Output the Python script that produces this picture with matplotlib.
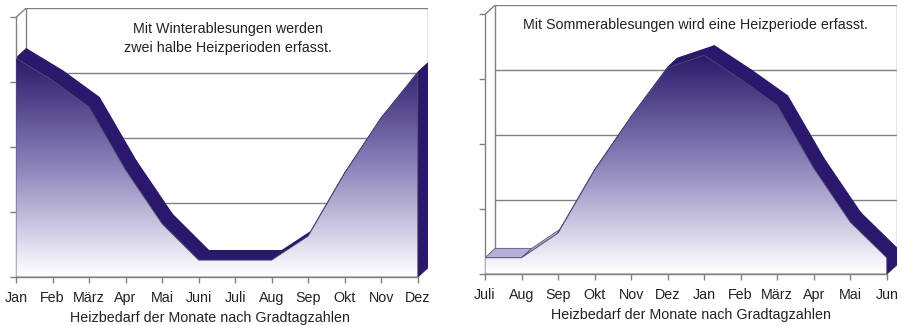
import matplotlib
matplotlib.use("Agg")
import matplotlib.pyplot as plt
import numpy as np
from matplotlib.patches import Polygon
from matplotlib.colors import LinearSegmentedColormap

plt.rcParams['font.family'] = ['Liberation Sans', 'DejaVu Sans']

# Daten (Heizbedarf je Monat)
monate_winter = ['Jan', 'Feb', 'März', 'Apr', 'Mai', 'Juni', 'Juli', 'Aug', 'Sep', 'Okt', 'Nov', 'Dez']
bedarf_winter = [3.37, 3.03, 2.62, 1.65, 0.82, 0.26, 0.26, 0.26, 0.63, 1.60, 2.45, 3.15]

monate_sommer = ['Juli', 'Aug', 'Sep', 'Okt', 'Nov', 'Dez', 'Jan', 'Feb', 'März', 'Apr', 'Mai', 'Jun']
bedarf_sommer = [0.25, 0.25, 0.63, 1.60, 2.42, 3.18, 3.37, 3.00, 2.60, 1.63, 0.80, 0.25]

titel_winter = 'Mit Winterablesungen werden\nzwei halbe Heizperioden erfasst.'
titel_sommer = 'Mit Sommerablesungen wird eine Heizperiode erfasst.'
achse_text = 'Heizbedarf der Monate nach Gradtagzahlen'

# 3D-Tiefe in Dateneinheiten
DX = 0.28
DY = 0.145
YMAX = 4

dunkel = '#29186c'
hell = '#b4afd8'
grau = '#808080'
verlauf = LinearSegmentedColormap.from_list(
    'verlauf', [(0, '#ffffff'), (0.08, '#efedf7'), (0.5, '#8d84bb'), (1, '#2a1a6a')])


def panel(ax, labels, werte, titel, hell_bis, titel_pos, label_x):
    n = len(werte)
    x = np.arange(n)
    y = np.array(werte)
    ax.set_xlim(0, n - 1 + DX)
    ax.set_ylim(0, YMAX + DY)

    # Rueckwand mit Gitterlinien
    for lvl in range(1, YMAX):
        ax.plot([DX, n - 1 + DX], [lvl + DY, lvl + DY], color=grau, lw=1.0, zorder=1)
    ax.plot([DX, DX, n - 1 + DX, n - 1 + DX], [DY, YMAX + DY, YMAX + DY, DY],
            color=grau, lw=1.0, zorder=1)
    ax.plot([0, DX], [YMAX, YMAX + DY], color=grau, lw=1.0, zorder=1)
    ax.plot([0, DX], [0, DY], color=grau, lw=1.0, zorder=1)

    # Oberseite (Band)
    for i in range(n - 1):
        quad = [(x[i], y[i]), (x[i + 1], y[i + 1]),
                (x[i + 1] + DX, y[i + 1] + DY), (x[i] + DX, y[i] + DY)]
        if i < hell_bis:
            ax.add_patch(Polygon(quad, closed=True, fc=hell, ec='#5a5478', lw=0.6, zorder=2))
        else:
            ax.add_patch(Polygon(quad, closed=True, fc=dunkel, ec=dunkel, lw=1.0, zorder=2))

    # rechte Seitenflaeche
    seite = [(n - 1, 0), (n - 1, y[-1]), (n - 1 + DX, y[-1] + DY), (n - 1 + DX, DY)]
    ax.add_patch(Polygon(seite, closed=True, fc=dunkel, ec=dunkel, lw=0.8, zorder=2))

    # Vorderseite mit Farbverlauf
    front = Polygon(list(zip(x, y)) + [(n - 1, 0), (0, 0)], closed=True,
                    fc='none', ec='#50506a', lw=0.6, zorder=4)
    ax.add_patch(front)
    grad = np.linspace(0, 1, 256).reshape(-1, 1)
    im = ax.imshow(grad, extent=(0, n - 1, 0, y.max()), origin='lower', cmap=verlauf,
                   aspect='auto', interpolation='bilinear', zorder=3)
    im.set_clip_path(front)

    ax.text(titel_pos[0], titel_pos[1], titel, transform=ax.transAxes, ha='center',
            va='center', fontsize=10.3, linespacing=1.45, color='#222222')

    for s in ['top', 'right']:
        ax.spines[s].set_visible(False)
    ax.spines['bottom'].set_bounds(0, n - 1)
    ax.spines['left'].set_bounds(0, YMAX)
    for s in ['bottom', 'left']:
        ax.spines[s].set_color(grau)
        ax.spines[s].set_linewidth(1.0)
    ax.set_xticks(x)
    ax.set_xticklabels(labels, fontsize=10.3, color='#222222')
    ax.set_yticks(range(YMAX + 1))
    ax.set_yticklabels([])
    ax.tick_params(axis='both', length=4, color=grau, width=1.0)
    ax.tick_params(axis='x', pad=6)
    ax.set_xlabel(achse_text, fontsize=10.3, color='#222222')
    ax.xaxis.set_label_coords(label_x, -0.128)
    ax.patch.set_visible(False)


fig = plt.figure(figsize=(9.02, 3.25), dpi=100)
ax1 = fig.add_axes([16 / 902, 48 / 325, 412 / 902, 269 / 325])
ax2 = fig.add_axes([485 / 902, 51 / 325, 412 / 902, 269 / 325])

panel(ax1, monate_winter, bedarf_winter, titel_winter, 0, (0.515, 0.885), 0.471)
panel(ax2, monate_sommer, bedarf_sommer, titel_sommer, 2, (0.51, 0.925), 0.50)

fig.savefig('out.png', dpi=100)
